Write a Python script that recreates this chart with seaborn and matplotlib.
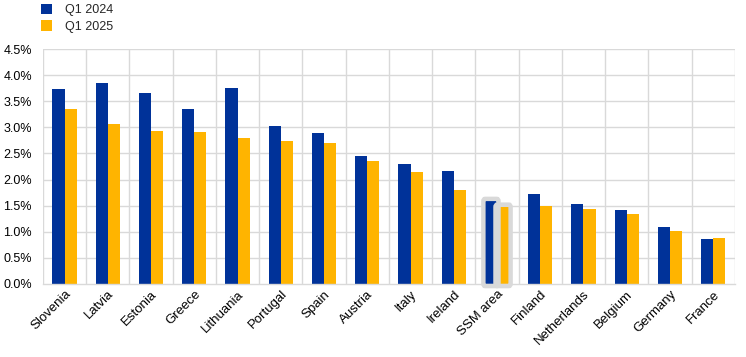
import matplotlib
matplotlib.use("Agg")
import matplotlib.pyplot as plt
import seaborn as sns
import pandas as pd
from matplotlib.patches import FancyBboxPatch, Patch
from matplotlib.ticker import PercentFormatter, MultipleLocator

countries = ["Slovenia", "Latvia", "Estonia", "Greece", "Lithuania", "Portugal", "Spain",
             "Austria", "Italy", "Ireland", "SSM area", "Finland", "Netherlands", "Belgium",
             "Germany", "France"]
q1_2024 = [3.74, 3.85, 3.66, 3.35, 3.75, 3.03, 2.89, 2.45, 2.30, 2.16, 1.59, 1.72, 1.53, 1.42, 1.09, 0.86]
q1_2025 = [3.35, 3.07, 2.93, 2.91, 2.80, 2.74, 2.70, 2.36, 2.15, 1.80, 1.48, 1.50, 1.44, 1.34, 1.02, 0.88]
series = ["Q1 2024", "Q1 2025"]
colors = ["#003299", "#FFB400"]

df = pd.DataFrame({
    "country": countries * 2,
    "value": q1_2024 + q1_2025,
    "period": [series[0]] * len(countries) + [series[1]] * len(countries),
})

sns.set_theme(style="white")
plt.rcParams["font.family"] = ["Liberation Sans", "DejaVu Sans"]

fig = plt.figure(figsize=(7.46, 3.57), dpi=100)
ax = fig.add_axes([0.0576, 0.2045, 0.9274, 0.6582])

sns.barplot(data=df, x="country", y="value", hue="period", palette=colors,
            width=0.56, gap=0, ax=ax, legend=False, saturation=1, edgecolor="none")

ax.set_ylim(0, 4.5)
ax.set_xlim(-0.5, len(countries) - 0.5)
ax.yaxis.set_major_locator(MultipleLocator(0.5))
ax.yaxis.set_major_formatter(PercentFormatter(decimals=1))
ax.set_xlabel("")
ax.set_ylabel("")

grid_c = "#D9D9D9"
for yv in [0.5 * i for i in range(1, 10)]:
    ax.axhline(yv, color=grid_c, lw=1, zorder=0)
for xv in [i - 0.5 for i in range(len(countries) + 1)]:
    ax.axvline(xv, color=grid_c, lw=1, zorder=0)
for s in ["top", "right", "left"]:
    ax.spines[s].set_visible(False)
ax.spines["bottom"].set_color(grid_c)
ax.spines["bottom"].set_linewidth(1)

ax.tick_params(axis="y", length=0, labelsize=9, colors="black", pad=8)
ax.tick_params(axis="x", length=0, labelsize=9.5, colors="black", pad=3)
plt.setp(ax.get_xticklabels(), rotation=45, ha="right", rotation_mode="anchor")

# Highlight SSM area bars
idx = countries.index("SSM area")
bars = [p for p in ax.patches if hasattr(p, "get_x") and p.get_width() > 0]
for p in bars:
    cx = p.get_x() + p.get_width() / 2
    if abs(cx - idx) < 0.5:
        pad_x = 0.035
        pad_y = 0.04
        box = FancyBboxPatch((p.get_x() - pad_x, -pad_y),
                             p.get_width() + 2 * pad_x, p.get_height() + 2 * pad_y,
                             boxstyle="round,pad=0,rounding_size=0.04",
                             mutation_aspect=1.2,
                             facecolor="none", edgecolor="#D9D9D9", lw=3.2, zorder=1.5,
                             clip_on=False)
        ax.add_patch(box)

handles = [Patch(facecolor=c, edgecolor="none") for c in colors]
fig.legend(handles, series, loc="upper left", bbox_to_anchor=(0.045, 1.01), frameon=False,
           fontsize=9, handlelength=0.9, handleheight=0.9, handletextpad=1.0,
           labelspacing=0.3, borderaxespad=0.2)

fig.savefig("out.png", dpi=100)
